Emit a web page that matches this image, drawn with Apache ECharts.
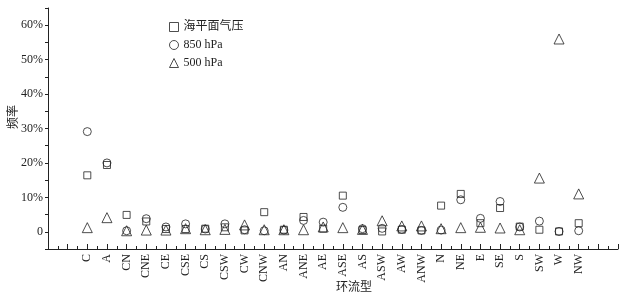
<!DOCTYPE html>
<html>
<head>
<meta charset="utf-8">
<script src="https://cdn.jsdelivr.net/npm/echarts@6/dist/echarts.min.js"></script>
<style>
  html, body { margin: 0; padding: 0; background: #fff; }
  #main { width: 625px; height: 296px; }
</style>
</head>
<body>
<div id="main"></div>
<script>
// circulation types, placed at x = 2 .. 27
var categories = ['C', 'A', 'CN', 'CNE', 'CE', 'CSE', 'CS', 'CSW', 'CW', 'CNW', 'AN', 'ANE', 'AE',
  'ASE', 'AS', 'ASW', 'AW', 'ANW', 'N', 'NE', 'E', 'SE', 'S', 'SW', 'W', 'NW']
var seaLevel = [16.4, 19.4, 4.9, 3.0, 0.8, 0.8, 0.9, 1.3, 0.4, 5.7, 0.6, 4.3, 0.9,
  10.5, 0.5, 0.1, 0.6, 0.4, 7.6, 11.0, 2.5, 6.9, 1.5, 0.6, 0.1, 2.5]
var hpa850 = [29.1, 20.0, 0.3, 3.8, 1.4, 2.3, 0.8, 2.3, 0.6, 0.3, 0.5, 3.3, 2.8,
  7.1, 0.9, 1.0, 0.7, 0.4, 0.5, 9.3, 3.9, 8.8, 1.4, 3.1, 0.1, 0.3]
var hpa500 = [1.2, 4.1, 0.3, 0.5, 0.5, 0.9, 0.6, 0.7, 2.0, 0.6, 0.6, 0.6, 1.4,
  1.2, 0.7, 3.2, 1.7, 1.7, 0.9, 1.2, 1.3, 1.1, 0.6, 15.6, 56.0, 11.0]
var seriesNames = ['海平面气压', '850 hPa', '500 hPa']
var xName = '环流型'
var yName = '频率'

var serif = 'Liberation Serif, Noto Sans CJK SC, serif'
var ink = '#222'

function toPoints(arr) {
  var out = []
  for (var i = 0; i < arr.length; i++) {
    out.push([i + 2, arr[i]])
  }
  return out
}

function makeSeries(name, symbol, size, data) {
  return {
    name: name,
    type: 'scatter',
    symbol: symbol,
    symbolSize: size,
    data: toPoints(data),
    itemStyle: {
      color: 'rgba(0,0,0,0)',
      borderColor: ink,
      borderWidth: 1
    },
    emphasis: { disabled: true }
  }
}

var chart = echarts.init(document.getElementById('main'), null, { renderer: 'canvas' })

var option = {
  backgroundColor: '#fff',
  animation: false,
  grid: {
    left: 48,
    right: 7,
    top: 8,
    bottom: 47,
    containLabel: false,
    outerBoundsMode: 'none'
  },
  legend: {
    orient: 'vertical',
    left: 164,
    top: 16,
    itemWidth: 9,
    itemHeight: 9,
    itemGap: 6,
    data: seriesNames,
    itemStyle: {
      color: 'rgba(0,0,0,0)',
      borderColor: ink,
      borderWidth: 1
    },
    textStyle: {
      fontFamily: serif,
      fontSize: 12,
      color: ink
    }
  },
  // axis titles
  graphic: [
    {
      type: 'text',
      x: 354,
      y: 286,
      style: {
        text: xName,
        font: '12px "Noto Sans CJK SC"',
        fill: ink,
        align: 'center',
        verticalAlign: 'middle'
      }
    },
    {
      type: 'text',
      x: 12,
      y: 117,
      rotation: Math.PI / 2,
      style: {
        text: yName,
        font: '12px "Noto Sans CJK SC"',
        fill: ink,
        align: 'center',
        verticalAlign: 'middle'
      }
    }
  ],
  xAxis: {
    type: 'value',
    min: 0,
    max: 29,
    interval: 1,
    axisLine: { onZero: false, lineStyle: { color: ink, width: 1 } },
    axisTick: { inside: true, length: 5, lineStyle: { color: ink } },
    minorTick: { show: true, splitNumber: 2, length: 3, lineStyle: { color: ink } },
    splitLine: { show: false },
    axisLabel: {
      rotate: 90,
      margin: 5,
      fontFamily: serif,
      fontSize: 12,
      color: ink,
      formatter: function (v) {
        var idx = Math.round(v) - 2
        return categories[idx] || ''
      }
    }
  },
  yAxis: {
    type: 'value',
    min: -5,
    max: 65,
    interval: 5,
    axisLine: { show: true, onZero: false, lineStyle: { color: ink, width: 1 } },
    axisTick: { show: true, length: 3, lineStyle: { color: ink } },
    splitLine: { show: false },
    axisLabel: {
      margin: 5,
      fontFamily: serif,
      fontSize: 12,
      color: ink,
      formatter: function (v) {
        if (v < 0 || v % 10 !== 0) return ''
        if (v === 0) return '0'
        return v + '%'
      }
    }
  },
  series: [
    makeSeries(seriesNames[0], 'rect', 7, seaLevel),
    makeSeries(seriesNames[1], 'circle', 8, hpa850),
    makeSeries(seriesNames[2], 'triangle', 10, hpa500)
  ]
}

chart.setOption(option)
</script>
</body>
</html>
